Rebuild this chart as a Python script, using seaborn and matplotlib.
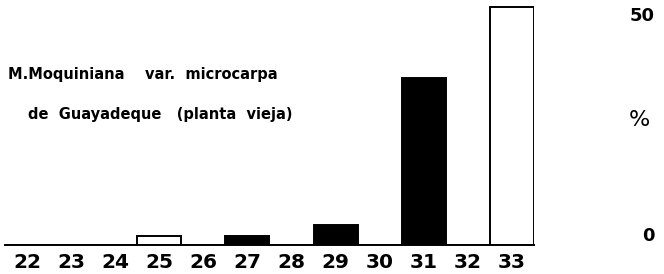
import matplotlib
matplotlib.use("Agg")
import matplotlib.pyplot as plt
import seaborn as sns
import pandas as pd

# Datos (porcentaje por clase)
clases = ["22", "23", "24", "25", "26", "27", "28", "29", "30", "31", "32", "33"]
porcentajes = [0, 0, 0, 2, 0, 2, 0, 4.5, 0, 38, 0, 54]
relleno = ["white", "white", "white", "white", "white", "black",
           "white", "black", "white", "black", "white", "white"]

df = pd.DataFrame({"clase": clases, "pct": porcentajes})
paleta = dict(zip(clases, relleno))

sns.set_style("white")
plt.rcParams["font.family"] = ["DejaVu Sans"]
plt.rcParams["text.color"] = "black"
plt.rcParams["xtick.color"] = "black"
plt.rcParams["ytick.color"] = "black"

fig = plt.figure(figsize=(6.64, 2.74), dpi=100)
ax = fig.add_axes([5 / 664, 29 / 274, 529 / 664, 242 / 274])

sns.barplot(data=df, x="clase", y="pct", hue="clase", palette=paleta,
            legend=False, width=1.0, edgecolor="black", linewidth=1.4,
            saturation=1, ax=ax)

ax.set_ylim(0, 55)
ax.set_xlabel("")
ax.set_ylabel("")

# Solo la linea base
for s in ["top", "left", "right"]:
    ax.spines[s].set_visible(False)
ax.spines["bottom"].set_linewidth(1.4)
ax.spines["bottom"].set_color("black")

ax.tick_params(axis="x", length=0, pad=6, labelsize=14.5, labelcolor="black")
for t in ax.get_xticklabels():
    t.set_fontweight("bold")

# Eje de porcentaje a la derecha, separado del grafico
ax.yaxis.tick_right()
ax.set_yticks([0, 50])
ax.set_yticklabels(["0", "50"])
ax.tick_params(axis="y", length=0, pad=87, labelsize=13, labelcolor="black")
for t in ax.get_yticklabels():
    t.set_fontweight("bold")
    t.set_horizontalalignment("right")
    t.set_verticalalignment("bottom")
ax.get_yticklabels()[0].set_y(1.5)

ax.text(1.2, 0.517, "%", transform=ax.transAxes, fontsize=16,
        ha="center", va="center", color="black")

# Leyenda del material
ax.text(0.0057, 0.705, "M.Moquiniana    var.  microcarpa", transform=ax.transAxes,
        fontsize=10.5, fontweight="bold", ha="left", va="center", color="black")
ax.text(0.043, 0.54, "de  Guayadeque   (planta  vieja)", transform=ax.transAxes,
        fontsize=10.5, fontweight="bold", ha="left", va="center", color="black")

fig.savefig("out.png", dpi=100)
